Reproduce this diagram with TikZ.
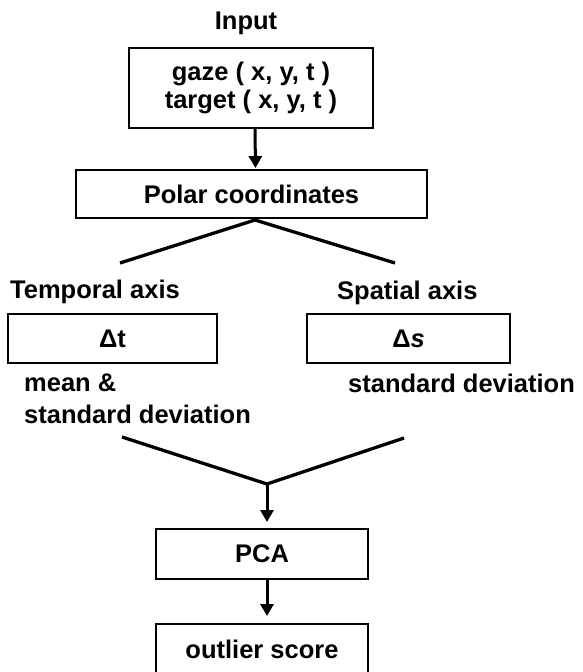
\documentclass[tikz,border=0pt]{standalone}
\usepackage{fontspec}
\setmainfont{Liberation Sans}
\usepackage{xcolor}
\usetikzlibrary{calc}
\usetikzlibrary{arrows.meta}

\begin{document}
\begin{tikzpicture}[x=1pt,y=-1pt]

\tikzset{
    box/.style = {
    minimum height=49pt,
    inner sep=0pt
    }
}

\tikzstyle{etape}=[draw, line width=2pt, box, font=\fontsize{25.5}{28}\selectfont\bfseries, align=center]
\tikzstyle{titre}=[inner sep=0pt, font=\fontsize{25.5}{32}\selectfont\bfseries, align=left]
\tikzstyle{fleche}=[line width=3pt, -{Triangle[length=12pt,width=13pt]}]
\tikzstyle{branche}=[line width=3.3pt]

\useasboundingbox (0,0) rectangle (582,672);

\node (lbl-in) [titre, anchor=base] at (246,29) {Input};
\node (in) [etape, minimum width=244pt, minimum height=80pt] at (251,88) {gaze ( x, y, t )\\target ( x, y, t )};
\node (polar) [etape, minimum width=351pt, minimum height=48pt] at (251.5,194) {Polar coordinates};

\node (lbl-t) [titre, anchor=base west] at (10,298) {Temporal axis};
\node (lbl-s) [titre, anchor=base west] at (337,299) {Spatial axis};
\node (dt) [etape, minimum width=209pt] at (112.5,338.5) {Δt};
\node (ds) [etape, minimum width=203pt] at (408.5,338.5) {Δ\textit{s}};
\node (stat-t) [titre, anchor=north west] at (24,374) {mean \&\\standard deviation};
\node (stat-s) [titre, anchor=base west] at (348,392) {standard deviation};

\node (pca) [etape, minimum width=212pt, minimum height=50pt] at (262,554) {PCA};
\node (out) [etape, minimum width=212pt, minimum height=50pt] at (262,649) {outlier score};

\coordinate (haut) at (255,220);
\coordinate (haut-g) at (120,263);
\coordinate (haut-d) at (395,263);
\coordinate (bas-g) at (122,437);
\coordinate (bas-d) at (404,438);
\coordinate (bas) at (267,484);

\draw [fleche, shorten >=1pt] ([xshift=4pt]in.south) -- ([xshift=4pt]polar.north);
\draw [branche] (haut) -- (haut-g);
\draw [branche] (haut) -- (haut-d);
\draw [branche] (bas-g) -- (bas);
\draw [branche] (bas-d) -- (bas);
\draw [fleche, shorten >=6pt] (bas) -- (bas |- pca.north);
\draw [fleche, shorten >=7pt] ([xshift=5pt]pca.south) -- ([xshift=5pt]out.north);

\end{tikzpicture}
\end{document}
